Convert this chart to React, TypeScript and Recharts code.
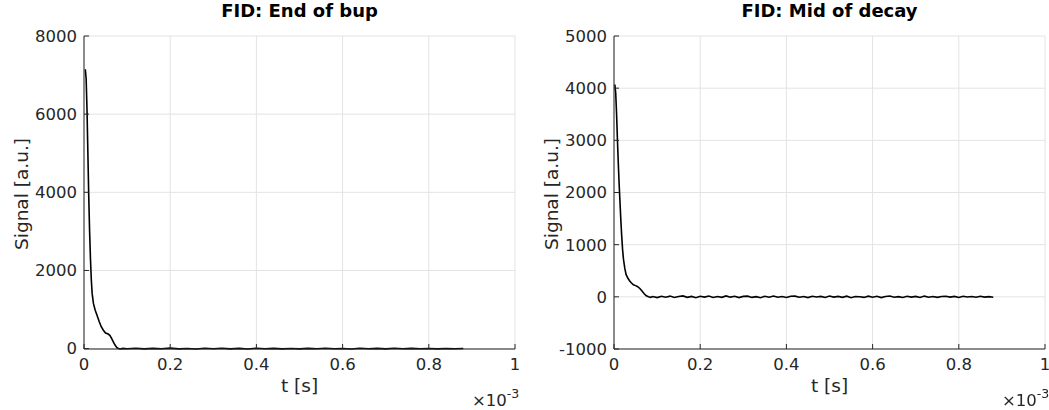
import { LineChart, Line, XAxis, YAxis, CartesianGrid } from 'recharts'

// time axis in units of 1e-3 s
const timeEnd = [
  0.003, 0.005, 0.007, 0.009, 0.011, 0.013, 0.015, 0.017, 0.019, 0.022, 0.026, 0.030, 0.035, 0.040,
  0.045, 0.050, 0.055, 0.060, 0.064, 0.068, 0.072, 0.076, 0.080, 0.084, 0.09, 0.1, 0.12, 0.14, 0.16,
  0.18, 0.2, 0.22, 0.24, 0.26, 0.28, 0.3, 0.32, 0.34, 0.36, 0.38, 0.4, 0.42, 0.44, 0.46, 0.48, 0.5,
  0.52, 0.54, 0.56, 0.58, 0.6, 0.62, 0.64, 0.66, 0.68, 0.7, 0.72, 0.74, 0.76, 0.78, 0.8, 0.82, 0.84,
  0.86, 0.88,
]
const signalEnd = [
  7150, 6900, 6100, 5000, 3900, 3000, 2300, 1750, 1400, 1150, 980, 860, 700, 560,
  470, 400, 380, 340, 260, 170, 90, 30, 0, -10, 5, -5, 10, -8, 6,
  -4, 12, -6, 4, -10, 8, -3, 9, -7, 5, -9, 11, -2, 7, -6, 3, -8,
  6, -5, 10, -4, 2, -9, 8, -3, 5, -7, 9, -4, 6, -2, 4, -6, 3,
  -5, 2,
]

const timeMid = [
  0.002, 0.004, 0.006, 0.008, 0.010, 0.012, 0.014, 0.016, 0.018, 0.020, 0.022, 0.025, 0.028, 0.032,
  0.036, 0.040, 0.045, 0.050, 0.055, 0.060, 0.065, 0.070, 0.075, 0.080, 0.085, 0.09, 0.1, 0.11, 0.12,
  0.13, 0.14, 0.15, 0.16, 0.17, 0.18, 0.19, 0.2, 0.21, 0.22, 0.23, 0.24, 0.25, 0.26, 0.27, 0.28,
  0.29, 0.3, 0.31, 0.32, 0.33, 0.34, 0.35, 0.36, 0.37, 0.38, 0.39, 0.4, 0.41, 0.42, 0.43, 0.44,
  0.45, 0.46, 0.47, 0.48, 0.49, 0.5, 0.51, 0.52, 0.53, 0.54, 0.55, 0.56, 0.57, 0.58, 0.59, 0.6,
  0.61, 0.62, 0.63, 0.64, 0.65, 0.66, 0.67, 0.68, 0.69, 0.7, 0.71, 0.72, 0.73, 0.74, 0.75, 0.76,
  0.77, 0.78, 0.79, 0.8, 0.81, 0.82, 0.83, 0.84, 0.85, 0.86, 0.87, 0.88,
]
const signalMid = [
  4070, 3900, 3500, 3000, 2550, 2150, 1800, 1450, 1150, 900, 720, 550, 430, 360,
  310, 270, 230, 215, 195, 160, 110, 60, 20, 0, -10, 5, -15, 12, -8,
  14, -12, 6, 18, -10, 9, -16, 11, -5, 15, -13, 7, -9, 17, -6, 10,
  -14, 8, 13, -11, 4, -17, 12, -7, 16, -9, 5, -12, 10, 14, -8, 6,
  -15, 11, -4, 9, -13, 15, -6, 8, -10, 12, -16, 7, 3, -11, 13, -7,
  10, -14, 6, 16, -9, 4, -12, 11, -5, 9, -13, 14, -8, 7, -10, 5,
  12, -6, 8, -11, 10, -4, 6, -9, 11, -5, 3, -7,
]

const xTicks = [0, 0.2, 0.4, 0.6, 0.8, 1]
const yTicksEnd = [0, 2000, 4000, 6000, 8000]
const yTicksMid = [-1000, 0, 1000, 2000, 3000, 4000, 5000]

const dataEnd = timeEnd.map((t, i) => ({ t, v: signalEnd[i] }))
const dataMid = timeMid.map((t, i) => ({ t, v: signalMid[i] }))

const FONT = 'DejaVu Sans, sans-serif'
const AX = '#262626'
const tickStyle = { fontSize: 16.5, fill: AX, fontFamily: FONT }

function Panel({ title, data, yTicks, left }: { title: string; data: { t: number; v: number }[]; yTicks: number[]; left: number }) {
  const W = 519
  const H = 410
  const yDomain = [yTicks[0], yTicks[yTicks.length - 1]]
  return (
    <div style={{ position: 'absolute', left, top: 0, width: W, height: H }}>
      <LineChart width={W} height={H} data={data} margin={{ top: 36, right: 4, bottom: 0, left: 0 }}>
        <CartesianGrid xAxisId="b" yAxisId="l" stroke="#e3e3e3" horizontal vertical />
        <XAxis
          xAxisId="b"
          dataKey="t"
          type="number"
          domain={[0, 1]}
          ticks={xTicks}
          height={61}
          stroke={AX}
          tickSize={-5}
          tickMargin={14}
          tick={tickStyle}
        />
        <XAxis xAxisId="top" orientation="top" dataKey="t" type="number" domain={[0, 1]} ticks={xTicks} height={0} stroke={AX} tickSize={-5} tick={false} />
        <YAxis
          yAxisId="l"
          type="number"
          domain={yDomain}
          ticks={yTicks}
          width={84}
          stroke={AX}
          tickSize={-5}
          tickMargin={12}
          tick={tickStyle}
        />
        <YAxis yAxisId="r" orientation="right" type="number" domain={yDomain} ticks={yTicks} width={0} stroke={AX} tickSize={-5} tick={false} />
        <Line xAxisId="b" yAxisId="l" type="linear" dataKey="v" stroke="#000" strokeWidth={1.6} dot={false} isAnimationActive={false} />
      </LineChart>
      <div style={{ position: 'absolute', left: 84, width: 431, top: 0, textAlign: 'center', fontFamily: FONT, fontWeight: 'bold', fontSize: 18, color: '#000' }}>
        {title}
      </div>
      <div style={{ position: 'absolute', left: 84, width: 431, top: 375, textAlign: 'center', fontFamily: FONT, fontSize: 18.5, color: AX }}>
        t [s]
      </div>
      <div style={{ position: 'absolute', left: 472, top: 386, fontFamily: FONT, fontSize: 16.5, color: AX }}>
        ×10<sup style={{ fontSize: 12.5, verticalAlign: 8 }}>-3</sup>
      </div>
      <div
        style={{
          position: 'absolute',
          left: 21,
          top: 194,
          transform: 'translate(-50%, -50%) rotate(-90deg)',
          whiteSpace: 'nowrap',
          fontFamily: FONT,
          fontSize: 18.5,
          color: AX,
        }}
      >
        Signal [a.u.]
      </div>
    </div>
  )
}

export default function App() {
  return (
    <div style={{ position: 'fixed', left: 0, top: 0, width: 1049, height: 410, background: '#fff' }}>
      <Panel title="FID: End of bup" data={dataEnd} yTicks={yTicksEnd} left={0} />
      <Panel title="FID: Mid of decay" data={dataMid} yTicks={yTicksMid} left={530} />
    </div>
  )
}
